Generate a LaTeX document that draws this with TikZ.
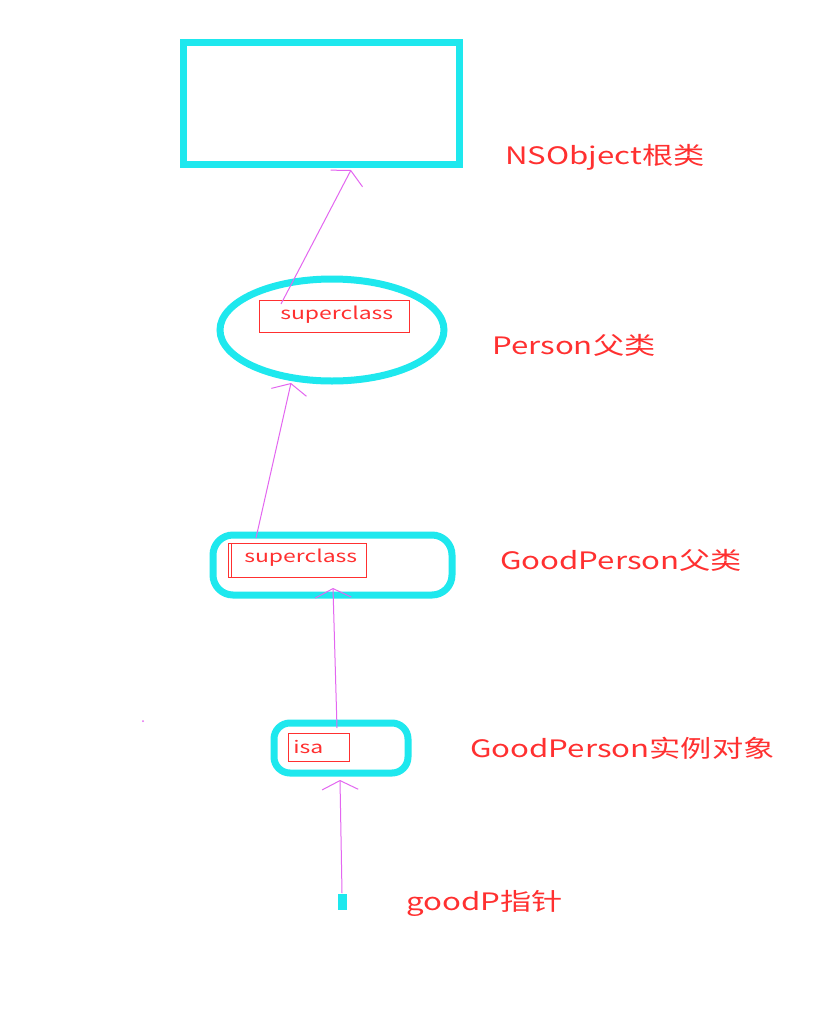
\documentclass[tikz,border=0pt]{standalone}
\usepackage{fontspec}
\setmainfont{Noto Sans CJK SC}
\usetikzlibrary{arrows.meta,shapes.geometric}
\definecolor{cy}{HTML}{1EE8EE}
\definecolor{rd}{HTML}{FF3030}
\definecolor{mg}{HTML}{E366F0}
\begin{document}
\begin{tikzpicture}[x=1pt,y=-1pt,
  lbl/.style={text=rd,font=\fontsize{24}{26}\selectfont,anchor=west,inner sep=0,xscale=1.3,transform shape},
  slot/.style={draw=rd,line width=1pt,inner sep=0,anchor=north west},
  st/.style={text=rd,font=\fontsize{17}{19}\selectfont,anchor=west,inner sep=0,xscale=1.35,transform shape},
  cyb/.style={draw=cy,line width=7pt},
  ar/.style={draw=mg,line width=1pt,-{Straight Barb[length=9pt,width=36pt,line width=1pt]}}]
\useasboundingbox (0,0) rectangle (832,1026);
\fill[fill=white] (0,0) rectangle (832,1026);
\draw[cyb] (183,42) rectangle (459,164);
\node[lbl] (l1) at (505,157) {NSObject根类};
\draw[cyb] (332,330) ellipse [x radius=112, y radius=51];
\node[slot,minimum width=150pt,minimum height=32pt] (s1) at (259,300) {};
\node[st] (t1) at (280,315) {superclass};
\node[lbl] (l2) at (492,345) {Person父类};
\draw[cyb,rounded corners=20pt] (213,535) rectangle (452,595);
\node[slot,minimum width=138pt,minimum height=34pt] (s2) at (228,543) {};
\draw[rd,line width=1pt] (231,543) -- (231,577);
\node[st] (t2) at (244,558) {superclass};
\node[lbl] (l3) at (500,560) {GoodPerson父类};
\draw[cyb,rounded corners=16pt] (274,723) rectangle (408,773);
\node[slot,minimum width=61pt,minimum height=28pt] (s3) at (288,733) {};
\node[st] (t3) at (293,747) {isa};
\node[lbl] (l4) at (470,748) {GoodPerson实例对象};
\fill[cy] (338,894) rectangle (347,910);
\node[lbl] (l5) at (406,903) {goodP指针};
\fill[mg] (143,721) circle (1pt);
\coordinate (a1) at (342,893); \coordinate (b1) at (340,780);
\coordinate (a2) at (337,728); \coordinate (b2) at (333,588);
\coordinate (a3) at (256,538); \coordinate (b3) at (291,383);
\coordinate (a4) at (281,304); \coordinate (b4) at (351,170);
\draw[ar] (a1) -- (b1);
\draw[ar] (a2) -- (b2);
\draw[ar] (a3) -- (b3);
\draw[ar] (a4) -- (b4);
\end{tikzpicture}
\end{document}
